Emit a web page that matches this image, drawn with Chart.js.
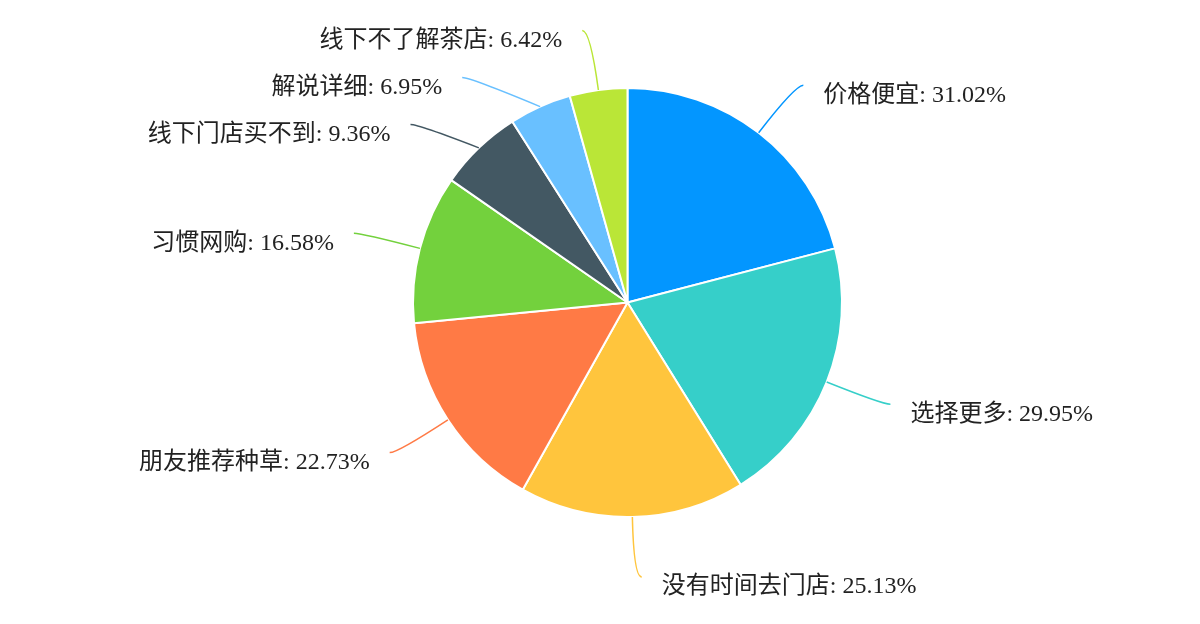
<!DOCTYPE html>
<html>
<head>
<meta charset="utf-8">
<script src="https://cdn.jsdelivr.net/npm/chart.js@4.4.1/dist/chart.umd.min.js"></script>
<style>
  html, body { margin: 0; padding: 0; background: #fff; }
  #wrap { width: 1200px; height: 624px; }
</style>
</head>
<body>
<div id="wrap"><canvas id="pie"></canvas></div>
<script>
var labels = ['价格便宜', '选择更多', '没有时间去门店', '朋友推荐种草', '习惯网购', '线下门店买不到', '解说详细', '线下不了解茶店'];
var values = [31.02, 29.95, 25.13, 22.73, 16.58, 9.36, 6.95, 6.42];
var colors = ['#0396FF', '#36CFC9', '#FFC53D', '#FF7A45', '#73D13D', '#435863', '#69C0FF', '#BAE637'];

// leader lines + labels, echarts style
var outsideLabels = {
  id: 'outsideLabels',
  afterDatasetsDraw: function(chart) {
    var ctx = chart.ctx;
    var arcs = chart.getDatasetMeta(0).data;
    var len1 = 60, len2 = 8, gap = 20, minSpace = 47;
    var items = [];

    arcs.forEach(function(arc, i) {
      var mid = (arc.startAngle + arc.endAngle) / 2;
      var dx = Math.cos(mid), dy = Math.sin(mid);
      var r = arc.outerRadius;
      items.push({
        i: i,
        cx: arc.x, cy: arc.y,
        R: r + len1,
        side: dx < 0 ? -1 : 1,
        ex: arc.x + r * dx, ey: arc.y + r * dy,
        y: arc.y + (r + len1) * dy,
        x: arc.x + (r + len1) * dx
      });
    });

    // push overlapping labels down, per side
    [-1, 1].forEach(function(side) {
      var list = items.filter(function(it) { return it.side === side; });
      list.sort(function(a, b) { return a.y - b.y; });
      for (var k = 1; k < list.length; k++) {
        if (list[k].y - list[k - 1].y < minSpace) {
          list[k].y = list[k - 1].y + minSpace;
          var d = list[k].y - list[k].cy;
          var h = list[k].R * list[k].R - d * d;
          list[k].x = list[k].cx + side * (h > 0 ? Math.sqrt(h) : 0);
        }
      }
    });

    ctx.save();
    items.forEach(function(it) {
      var endX = it.x + it.side * len2;
      ctx.strokeStyle = colors[it.i];
      ctx.lineWidth = 1.5;
      ctx.beginPath();
      ctx.moveTo(it.ex, it.ey);
      ctx.quadraticCurveTo(it.x, it.y, endX, it.y);
      ctx.stroke();

      ctx.fillStyle = '#222';
      ctx.font = '24px "Liberation Serif", "Noto Sans CJK SC", serif';
      ctx.textBaseline = 'middle';
      ctx.textAlign = it.side < 0 ? 'right' : 'left';
      ctx.fillText(labels[it.i] + ': ' + values[it.i].toFixed(2) + '%', endX + it.side * gap, it.y + 10);
    });
    ctx.restore();
  }
};

var chart = new Chart(document.getElementById('pie'), {
  type: 'pie',
  data: {
    labels: labels,
    datasets: [{
      data: values,
      backgroundColor: colors,
      borderColor: '#fff',
      borderWidth: 2
    }]
  },
  options: {
    responsive: true,
    maintainAspectRatio: false,
    animation: false,
    layout: { padding: { top: 87, bottom: 106, left: 55, right: 0 } },
    plugins: {
      legend: { display: false },
      tooltip: { enabled: false }
    }
  },
  plugins: [outsideLabels]
});
</script>
</body>
</html>
